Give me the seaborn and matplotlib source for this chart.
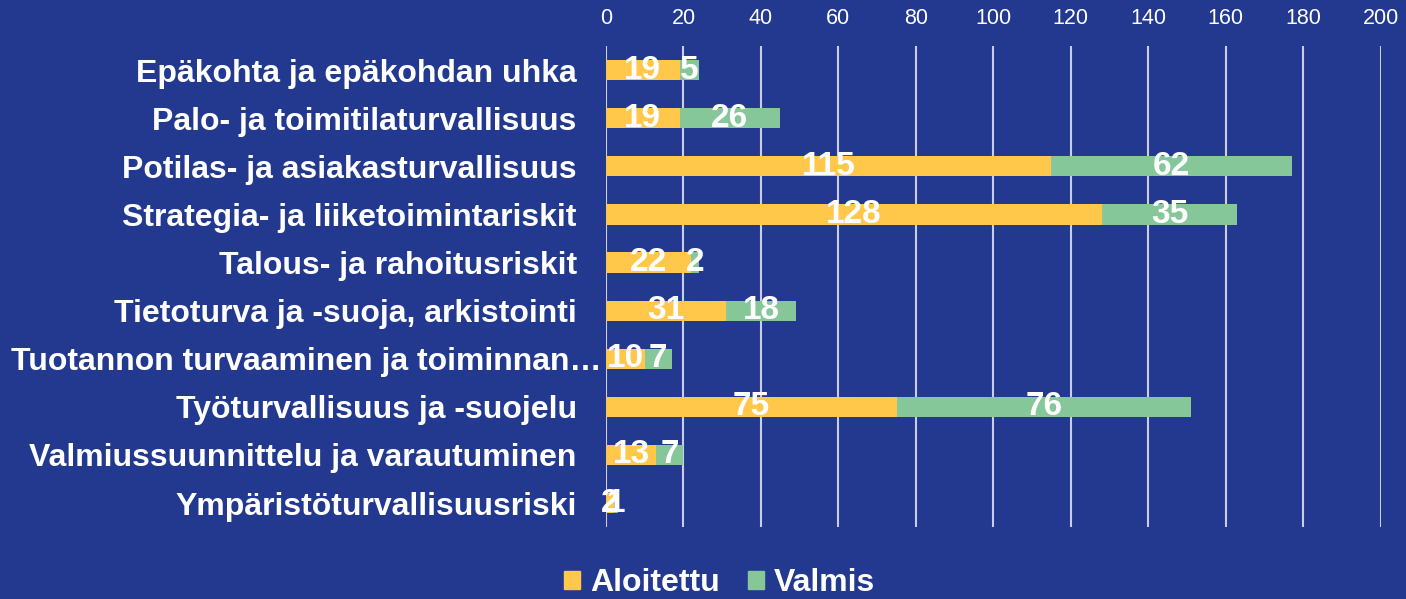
import numpy as np
import pandas as pd
import seaborn as sns
import matplotlib.pyplot as plt
from matplotlib.patches import Patch

# %% Data
categories = [
    "Epäkohta ja epäkohdan uhka",
    "Palo- ja toimitilaturvallisuus",
    "Potilas- ja asiakasturvallisuus",
    "Strategia- ja liiketoimintariskit",
    "Talous- ja rahoitusriskit",
    "Tietoturva ja -suoja, arkistointi",
    "Tuotannon turvaaminen ja toiminnan…",
    "Työturvallisuus ja -suojelu",
    "Valmiussuunnittelu ja varautuminen",
    "Ympäristöturvallisuusriski",
]
aloitettu = [19, 19, 115, 128, 22, 31, 10, 75, 13, 2]
valmis = [5, 26, 62, 35, 2, 18, 7, 76, 7, 1]
x_ticks = list(range(0, 201, 20))

df = pd.DataFrame({"kategoria": categories, "Aloitettu": aloitettu, "Valmis": valmis})

# %% Style
BG = '#22398F'
YELLOW = '#FFC84A'
GREEN = '#86C79A'
GRID = '#C9CDEB'

sns.set_style("white")
plt.rcParams['font.family'] = ['Liberation Sans', 'DejaVu Sans']

fig, ax = plt.subplots(figsize=(14.06, 5.99), dpi=100, facecolor=BG)
ax.set_facecolor(BG)
fig.subplots_adjust(left=0.431, right=0.982, top=0.923, bottom=0.12)

# stacked bars: Aloitettu first, Valmis on top of it
sns.barplot(data=df, x="Aloitettu", y="kategoria", color=YELLOW, orient='h',
            width=0.42, saturation=1, linewidth=0, edgecolor='none', ax=ax, zorder=2)
ax.barh(np.arange(len(categories)), df["Valmis"], left=df["Aloitettu"],
        height=0.42, color=GREEN, linewidth=0, zorder=2)

for cont in ax.containers:
    txts = ax.bar_label(cont, labels=[str(int(v)) for v in cont.datavalues], label_type='center',
                        color='white', fontsize=24, fontweight='bold', zorder=3)
    for t in txts:
        t.set_va('center')

# axes
ax.set_xlim(0, 200)
ax.set_xticks(x_ticks)
ax.xaxis.tick_top()
ax.tick_params(axis='x', length=0, labelsize=15.5, labelcolor='white', pad=12)
ax.tick_params(axis='y', length=0, labelsize=23, labelcolor='white', pad=21)
for lbl in ax.get_yticklabels():
    lbl.set_fontweight('bold')
# the long truncated label runs up to the bars, as in the original
ax.yaxis.get_major_ticks()[6].set_pad(3)
ax.set_xlabel("")
ax.set_ylabel("")
ax.set_ylim(len(categories) - 0.5, -0.5)

ax.grid(axis='x', color=GRID, linewidth=1.5, zorder=0)
ax.set_axisbelow(True)
sns.despine(ax=ax, left=True, bottom=True, top=True, right=True)

# legend
handles = [Patch(color=YELLOW, label='Aloitettu'), Patch(color=GREEN, label='Valmis')]
fig.legend(handles=handles, loc='lower center', bbox_to_anchor=(0.512, -0.047), ncol=2,
           frameon=False, handlelength=0.5, handleheight=0.5, handletextpad=0.3,
           columnspacing=0.9, prop={'size': 23, 'weight': 'bold'}, labelcolor='white')

fig.savefig("out.png", dpi=100, facecolor=BG)
